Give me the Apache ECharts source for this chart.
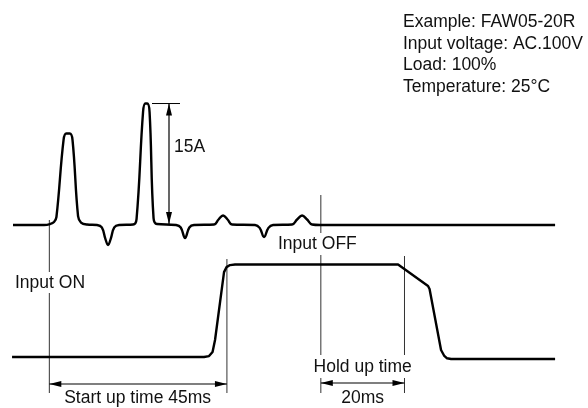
<!DOCTYPE html>
<html>
<head>
<meta charset="utf-8">
<script src="https://cdn.jsdelivr.net/npm/echarts@6/dist/echarts.min.js"></script>
<style>
  html, body { margin: 0; padding: 0; background: #fff; }
  #main { width: 588px; height: 408px; }
</style>
</head>
<body>
<div id="main"></div>
<script>
// input current waveform (time in ms from Input ON, current in A)
var currentTime = [-9.2, -1.34, 0.18, 1.19, 1.8, 3.6, 4.3, 5.17, 5.88, 7.28, 8.03, 9.56,
  12.09, 13.3, 14.2, 14.88, 15.56, 16.46, 17.67, 21.22, 22.1, 23.75, 24.35, 24.8, 25.4,
  26.41, 27.3, 32.11, 33.3, 34.39, 35.48, 36.67, 41.74, 42.88, 44.02, 45.16, 46.3, 52.13,
  53.3, 54.41, 55.52, 56.69, 61.51, 62.78, 64.05, 65.31, 66.58, 68.6, 128.16]
var currentAmp = [0, 0, 0.12, 0.37, 0.99, 10.49, 11.3, 11.3, 10.49, 1.11, 0.31, 0.06,
  0, -0.3, -1.7, -2.47, -1.7, -0.3, 0, 0.06, 0.74, 13.95, 15, 15, 13.95,
  0.86, 0.12, 0, -0.3, -1.6, -0.3, 0, 0.06, 0.68, 1.17, 0.68, 0.06, 0,
  -0.35, -1.48, -0.35, 0, 0.06, 0.68, 1.17, 0.68, 0.06, 0, 0]

// output voltage waveform (time in ms, volts)
var voltTime = [-9.45, 39.2, 40.47, 41.36, 41.99, 44.27, 44.91, 45.79, 47.06, 88.37, 95.97, 96.35,
  99.26, 100.02, 100.79, 101.8, 128.16]
var voltLevel = [0, 0, 0.05, 0.27, 0.92, 4.59, 4.86, 4.97, 5, 5, 3.84, 3.68,
  0.38, 0.08, -0.07, -0.11, -0.11]

// event times (ms)
var inputOn = 0
var startUpEnd = 45
var inputOff = 68.8
var holdUpEnd = 90
var peakCurrent = 15

var noteLines = ['Example: FAW05-20R', 'Input voltage: AC.100V', 'Load: 100%', 'Temperature: 25°C']

var FONT = '"Liberation Sans", Arial, Helvetica, sans-serif'

function zip (xs, ys) {
  return xs.map(function (x, i) { return [x, ys[i]] })
}

var chart = echarts.init(document.getElementById('main'))

chart.setOption({
  animation: false,
  grid: { left: 0, right: 0, top: 0, bottom: 0 },
  xAxis: { type: 'value', min: -12.5, max: 136.5, show: false },
  yAxis: [
    { type: 'value', min: -22.59, max: 27.78, show: false },
    { type: 'value', min: -2.757, max: 19.3, show: false }
  ],
  series: [
    {
      name: 'Input current',
      type: 'line',
      yAxisIndex: 0,
      data: zip(currentTime, currentAmp),
      smooth: 0.4,
      showSymbol: false,
      lineStyle: { color: '#000', width: 2.4 }
    },
    {
      name: 'Output voltage',
      type: 'line',
      yAxisIndex: 1,
      data: zip(voltTime, voltLevel),
      showSymbol: false,
      lineStyle: { color: '#000', width: 2.4, join: 'round' }
    }
  ]
})

// annotations, x positions come from the time axis
function px (t) { return chart.convertToPixel({ xAxisIndex: 0 }, t) }
function pyA (a) { return chart.convertToPixel({ yAxisIndex: 0 }, a) }

var els = []

function vline (x, segs) {
  segs.forEach(function (s) {
    els.push({ type: 'line', shape: { x1: x, y1: s[0], x2: x, y2: s[1] }, style: { stroke: '#333', lineWidth: 1 } })
  })
}
function head (x, y, dir, vertical) {
  var L = 12, W = 3
  var pts = vertical
    ? [[x, y], [x - W, y - dir * L], [x + W, y - dir * L]]
    : [[x, y], [x - dir * L, y - W], [x - dir * L, y + W]]
  els.push({ type: 'polygon', shape: { points: pts }, style: { fill: '#000' } })
}
function harrow (x1, x2, y) {
  els.push({ type: 'line', shape: { x1: x1, y1: y, x2: x2, y2: y }, style: { stroke: '#000', lineWidth: 1.2 } })
  head(x1, y, -1, false)
  head(x2, y, 1, false)
}
function label (text, x, y, align) {
  els.push({
    type: 'text', x: x, y: y,
    style: { text: text, font: '17.5px ' + FONT, fill: '#111', align: align || 'left', verticalAlign: 'middle' }
  })
}

var xOn = px(inputOn), xStart = px(startUpEnd), xOff = px(inputOff), xHold = px(holdUpEnd)

vline(xOn, [[220, 272], [293, 393]])
vline(xStart, [[259, 393]])
vline(xOff, [[195, 233], [255, 355], [378, 393]])
vline(xHold, [[256, 355], [378, 393]])

harrow(xOn, xStart, 384)
harrow(xOff, xHold, 383)

// 15A dimension
var yTop = pyA(peakCurrent), yBase = pyA(0)
var xDim = 169
els.push({ type: 'line', shape: { x1: 152, y1: yTop, x2: 180, y2: yTop }, style: { stroke: '#000', lineWidth: 1 } })
els.push({ type: 'line', shape: { x1: xDim, y1: yTop, x2: xDim, y2: yBase - 1 }, style: { stroke: '#000', lineWidth: 1.2 } })
head(xDim, yTop, -1, true)
head(xDim, yBase - 1, 1, true)
label(peakCurrent + 'A', 174, 147)

label('Input ON', 15, 283)
label('Input OFF', 278, 244)
label('Start up time ' + (startUpEnd - inputOn) + 'ms', (xOn + xStart) / 2 - 0.5, 398, 'center')
label('Hold up time', (xOff + xHold) / 2, 367, 'center')
label('20ms', (xOff + xHold) / 2, 398, 'center')

noteLines.forEach(function (t, i) {
  label(t, 403, 22.5 + i * 21.4)
})

chart.setOption({ graphic: { elements: els } })
</script>
</body>
</html>
